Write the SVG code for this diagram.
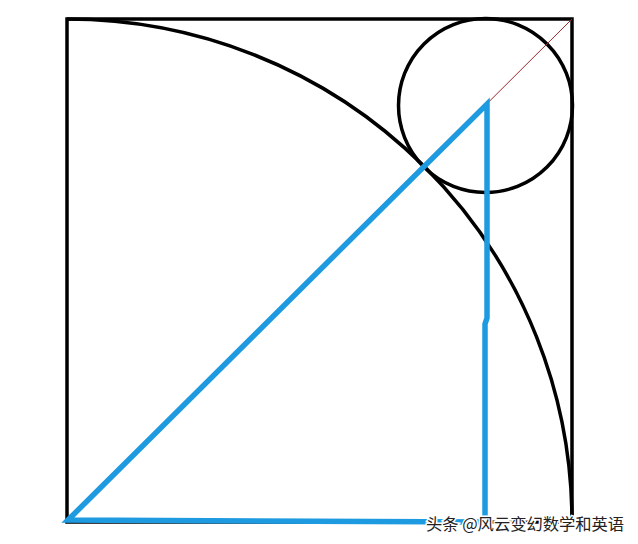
<svg xmlns="http://www.w3.org/2000/svg" width="638" height="544" viewBox="0 0 638 544">
<style>
.blk{fill:none;stroke:#000;stroke-width:3.5}
.blue{fill:none;stroke:#1e9ae0;stroke-width:5.5;stroke-linejoin:miter}
.wm{font-family:"Noto Sans CJK SC","Noto Sans",sans-serif;font-size:16.3px;fill:#222;stroke:#fff;stroke-width:3;paint-order:stroke}
</style>
<rect width="638" height="544" fill="#fff"/>
<g id="square"><rect class="blk" x="67" y="19" width="505" height="503"/></g>
<g id="arc"><path class="blk" d="M67,19 A505,503 0 0 1 572,522"/></g>
<g id="circle"><circle class="blk" cx="485.5" cy="105.5" r="87"/></g>
<g id="connectors">
<line x1="67" y1="522" x2="572" y2="19" stroke="#a02828" stroke-width="1"/>
<path class="blue" d="M68,520 L487,104 L487,318 L485,324 L485,522 L68,520 Z"/>
</g>
<text class="wm" x="426" y="530">头条 @风云变幻数学和英语</text>
</svg>
